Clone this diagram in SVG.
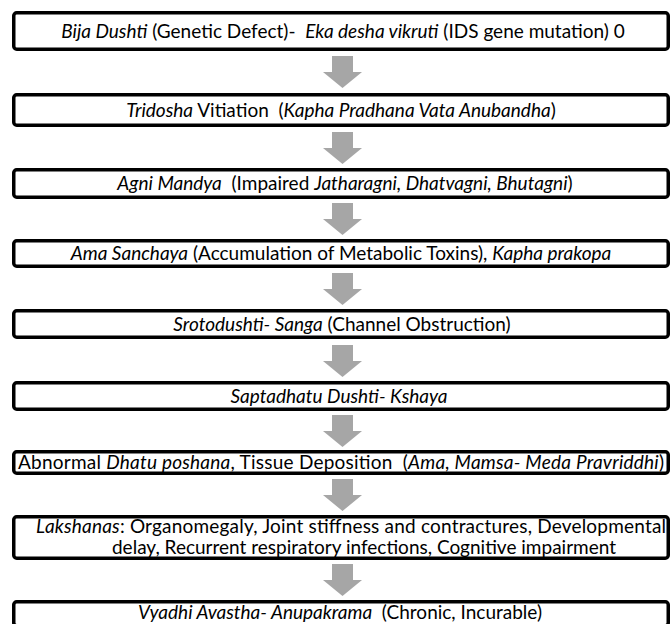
<svg xmlns="http://www.w3.org/2000/svg" width="671" height="624" viewBox="0 0 671 624" xml:space="preserve">
<style>
.box{fill:#ffffff;stroke:#000000;stroke-width:3.5}
.t{font-family:Lato,"Open Sans","Liberation Sans",sans-serif;font-size:19px;fill:#000000;text-anchor:middle;white-space:pre}
.i{font-style:italic}
.arr{fill:#a6a6a6}
</style>
<defs>
<path id="arrow" d="M-10.5,0 H10.5 V16 H19.5 L0,32 L-19.5,16 H-10.5 Z"/>
</defs>
<rect x="0" y="0" width="671" height="624" fill="#ffffff"/>
<g id="connectors" class="arr">
<use href="#arrow" x="342.5" y="56"/>
<use href="#arrow" x="342.5" y="132"/>
<use href="#arrow" x="342.5" y="203"/>
<use href="#arrow" x="342.5" y="273"/>
<use href="#arrow" x="342.5" y="345"/>
<use href="#arrow" x="342.5" y="415"/>
<use href="#arrow" x="342.5" y="479"/>
<use href="#arrow" x="342.5" y="564"/>
</g>
<g id="node1">
<rect class="box" x="13.75" y="12.75" width="654.5" height="36.5" rx="3"/>
<text class="t" x="343" y="37.5"><tspan class="i">Bija Dushti</tspan> (Genetic Defect)-  <tspan class="i">Eka desha vikruti</tspan> (IDS gene mutation) 0</text>
</g>
<g id="node2">
<rect class="box" x="13.75" y="94.75" width="654.5" height="30.5" rx="3"/>
<text class="t" x="341" y="116.5"><tspan class="i">Tridosha</tspan> Vitiation  (<tspan class="i">Kapha Pradhana Vata Anubandha</tspan>)</text>
</g>
<g id="node3">
<rect class="box" x="13.75" y="169.75" width="654.5" height="27.5" rx="3"/>
<text class="t" x="345" y="190"><tspan class="i">Agni Mandya</tspan>  (Impaired <tspan class="i">Jatharagni, Dhatvagni, Bhutagni</tspan>)</text>
</g>
<g id="node4">
<rect class="box" x="13.75" y="240.75" width="654.5" height="25.5" rx="3"/>
<text class="t" x="341" y="260"><tspan class="i">Ama Sanchaya</tspan> (Accumulation of Metabolic Toxins), <tspan class="i">Kapha prakopa</tspan></text>
</g>
<g id="node5">
<rect class="box" x="13.75" y="310.75" width="654.5" height="26.5" rx="3"/>
<text class="t" x="342" y="330.5"><tspan class="i">Srotodushti- Sanga</tspan> (Channel Obstruction)</text>
</g>
<g id="node6">
<rect class="box" x="13.75" y="382.75" width="654.5" height="26.5" rx="3"/>
<text class="t" x="339" y="402.5"><tspan class="i">Saptadhatu Dushti- Kshaya</tspan></text>
</g>
<g id="node7">
<rect class="box" x="13.75" y="451.75" width="654.5" height="21.5" rx="3"/>
<text class="t" x="341" y="468.5" textLength="646">Abnormal <tspan class="i">Dhatu poshana</tspan>, Tissue Deposition  (<tspan class="i">Ama, Mamsa- Meda Pravriddhi</tspan>)</text>
</g>
<g id="node8">
<rect class="box" x="13.75" y="516.75" width="654.5" height="41.5" rx="3"/>
<text class="t" x="351" y="533" textLength="630"><tspan class="i">Lakshanas</tspan>: Organomegaly, Joint stiffness and contractures, Developmental</text>
<text class="t" x="364" y="554">delay, Recurrent respiratory infections, Cognitive impairment</text>
</g>
<g id="node9">
<rect class="box" x="13.75" y="601.75" width="654.5" height="24" rx="3"/>
<text class="t" x="340" y="619"><tspan class="i">Vyadhi Avastha- Anupakrama</tspan>  (Chronic, Incurable)</text>
</g>
</svg>
